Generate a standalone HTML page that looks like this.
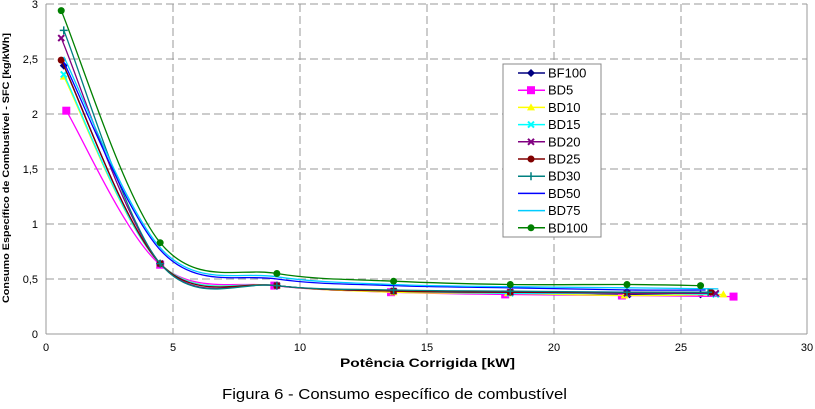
<!DOCTYPE html><html><head><meta charset="utf-8"><style>
body{margin:0;background:#fff;width:815px;height:404px;overflow:hidden;font-family:"Liberation Sans",Arial,sans-serif}
svg text{font-family:"Liberation Sans",Arial,sans-serif}
</style></head><body>
<svg id="s" width="815" height="404" xmlns="http://www.w3.org/2000/svg">
<g stroke="#999" stroke-dasharray="8,4" stroke-width="1">
<line x1="46" y1="59" x2="807" y2="59"/><line x1="46" y1="114" x2="807" y2="114"/><line x1="46" y1="169" x2="807" y2="169"/><line x1="46" y1="224" x2="807" y2="224"/><line x1="46" y1="279" x2="807" y2="279"/>
<line x1="173" y1="4" x2="173" y2="334"/><line x1="300" y1="4" x2="300" y2="334"/><line x1="427" y1="4" x2="427" y2="334"/><line x1="554" y1="4" x2="554" y2="334"/><line x1="681" y1="4" x2="681" y2="334"/>
<line x1="46" y1="4" x2="807" y2="4"/>
</g>
<line x1="807" y1="4" x2="807" y2="334" stroke="#999"/>
<line x1="46" y1="4" x2="46" y2="334" stroke="#999"/>
<line x1="46" y1="334" x2="807" y2="334" stroke="#999"/>
<g font-size="11" text-anchor="end" fill="#000">
<text x="38" y="8">3</text><text x="38" y="63">2,5</text><text x="38" y="118">2</text><text x="38" y="173">1,5</text><text x="38" y="228">1</text><text x="38" y="283">0,5</text><text x="38" y="338">0</text>
</g>
<g font-size="11" text-anchor="middle">
<text x="46" y="351">0</text><text x="173" y="351">5</text><text x="300" y="351">10</text><text x="427" y="351">15</text><text x="554" y="351">20</text><text x="681" y="351">25</text><text x="807" y="351">30</text>
</g>
<text x="340" y="367" font-size="12" font-weight="bold" textLength="175" lengthAdjust="spacingAndGlyphs">Potência Corrigida [kW]</text>
<text transform="translate(9,168) rotate(-90)" font-size="9" font-weight="bold" text-anchor="middle" textLength="270" lengthAdjust="spacingAndGlyphs">Consumo Específico de Combustível - SFC [kg/kWh]</text>
<text x="222" y="399" font-size="15" textLength="345" lengthAdjust="spacingAndGlyphs">Figura 6 - Consumo específico de combustível</text>
<g id="series"></g>
<rect x="503" y="64" width="98" height="173" fill="#fff" stroke="#888"/>
<g id="leg" font-size="13"></g>
</svg>
<script>
var S=[
["BF100","#000080","d",[[0.7,2.44],[4.5,0.64],[9.1,0.44],[13.7,0.39],[18.3,0.38],[23,0.36],[25.8,0.36]]],
["BD5","#ff00ff","s",[[0.8,2.03],[4.5,0.63],[9,0.44],[13.6,0.38],[18.1,0.36],[22.7,0.35],[27.1,0.34]]],
["BD10","#ffff00","t",[[0.7,2.34],[4.5,0.64],[9.1,0.44],[13.7,0.38],[18.2,0.37],[22.8,0.35],[26.7,0.36]]],
["BD15","#00ffff","x",[[0.7,2.36],[4.5,0.64],[9.1,0.44],[13.7,0.39],[18.3,0.37],[22.9,0.37],[26.4,0.36]]],
["BD20","#800080","x",[[0.6,2.69],[4.5,0.64],[9.1,0.44],[13.7,0.39],[18.3,0.38],[22.9,0.37],[26.4,0.37]]],
["BD25","#800000","c",[[0.6,2.49],[4.5,0.64],[9.1,0.44],[13.7,0.39],[18.3,0.38],[22.9,0.38],[26.2,0.38]]],
["BD30","#008080","p",[[0.7,2.76],[4.5,0.64],[9.1,0.44],[13.7,0.40],[18.3,0.39],[22.9,0.38],[26.1,0.38]]],
["BD50","#0000ff","n",[[0.7,2.47],[4.6,0.74],[9.1,0.50],[13.7,0.44],[18.3,0.42],[23,0.40],[26,0.40]]],
["BD75","#00ccff","n",[[0.7,2.52],[4.6,0.76],[9.1,0.52],[13.7,0.45],[18.3,0.43],[23,0.42],[26.5,0.41]]],
["BD100","#008000","c",[[0.6,2.94],[4.5,0.83],[9.1,0.55],[13.7,0.48],[18.3,0.45],[22.9,0.45],[25.8,0.44]]]];
function X(v){return 46+v*25.37}function Y(v){return 334-v*110}
var ns="http://www.w3.org/2000/svg",g=document.getElementById("series"),L=document.getElementById("leg");
function el(p,t,a){var e=document.createElementNS(ns,t);for(var k in a)e.setAttribute(k,a[k]);p.appendChild(e);return e}
function mk(p,x,y,m,c){
if(m=="d")el(p,"polygon",{points:(x)+","+(y-4)+" "+(x+4)+","+y+" "+x+","+(y+4)+" "+(x-4)+","+y,fill:c});
else if(m=="s")el(p,"rect",{x:x-4,y:y-4,width:8,height:8,fill:c});
else if(m=="t")el(p,"polygon",{points:x+","+(y-4)+" "+(x+4)+","+(y+3)+" "+(x-4)+","+(y+3),fill:c});
else if(m=="x"){el(p,"path",{d:"M"+(x-3)+" "+(y-3)+"L"+(x+3)+" "+(y+3)+"M"+(x+3)+" "+(y-3)+"L"+(x-3)+" "+(y+3),stroke:c,"stroke-width":2})}
else if(m=="c")el(p,"circle",{cx:x,cy:y,r:3.5,fill:c});
else if(m=="p")el(p,"path",{d:"M"+(x-4)+" "+y+"L"+(x+4)+" "+y+"M"+x+" "+(y-4)+"L"+x+" "+(y+4),stroke:c,"stroke-width":1.5});
}
S.forEach(function(s,i){
var P=s[3].map(function(p){return[X(p[0]),Y(p[1])]});
var d="M"+P[0][0]+" "+P[0][1];
for(var k=0;k<P.length-1;k++){var p0=P[k-1]||P[k],p1=P[k],p2=P[k+1],p3=P[k+2]||p2;
d+=" C"+(p1[0]+(p2[0]-p0[0])/6)+" "+(p1[1]+(p2[1]-p0[1])/6)+" "+(p2[0]-(p3[0]-p1[0])/6)+" "+(p2[1]-(p3[1]-p1[1])/6)+" "+p2[0]+" "+p2[1];}
el(g,"path",{d:d,fill:"none",stroke:s[1],"stroke-width":1.3});
P.forEach(function(p){mk(g,p[0],p[1],s[2],s[1])});
var ly=73+i*17.2;
el(L,"line",{x1:518,y1:ly,x2:545,y2:ly,stroke:s[1],"stroke-width":1.5});
mk(L,531,ly,s[2],s[1]);
var t=el(L,"text",{x:548,y:ly+4.5});t.textContent=s[0];
});
</script>
</body></html>
